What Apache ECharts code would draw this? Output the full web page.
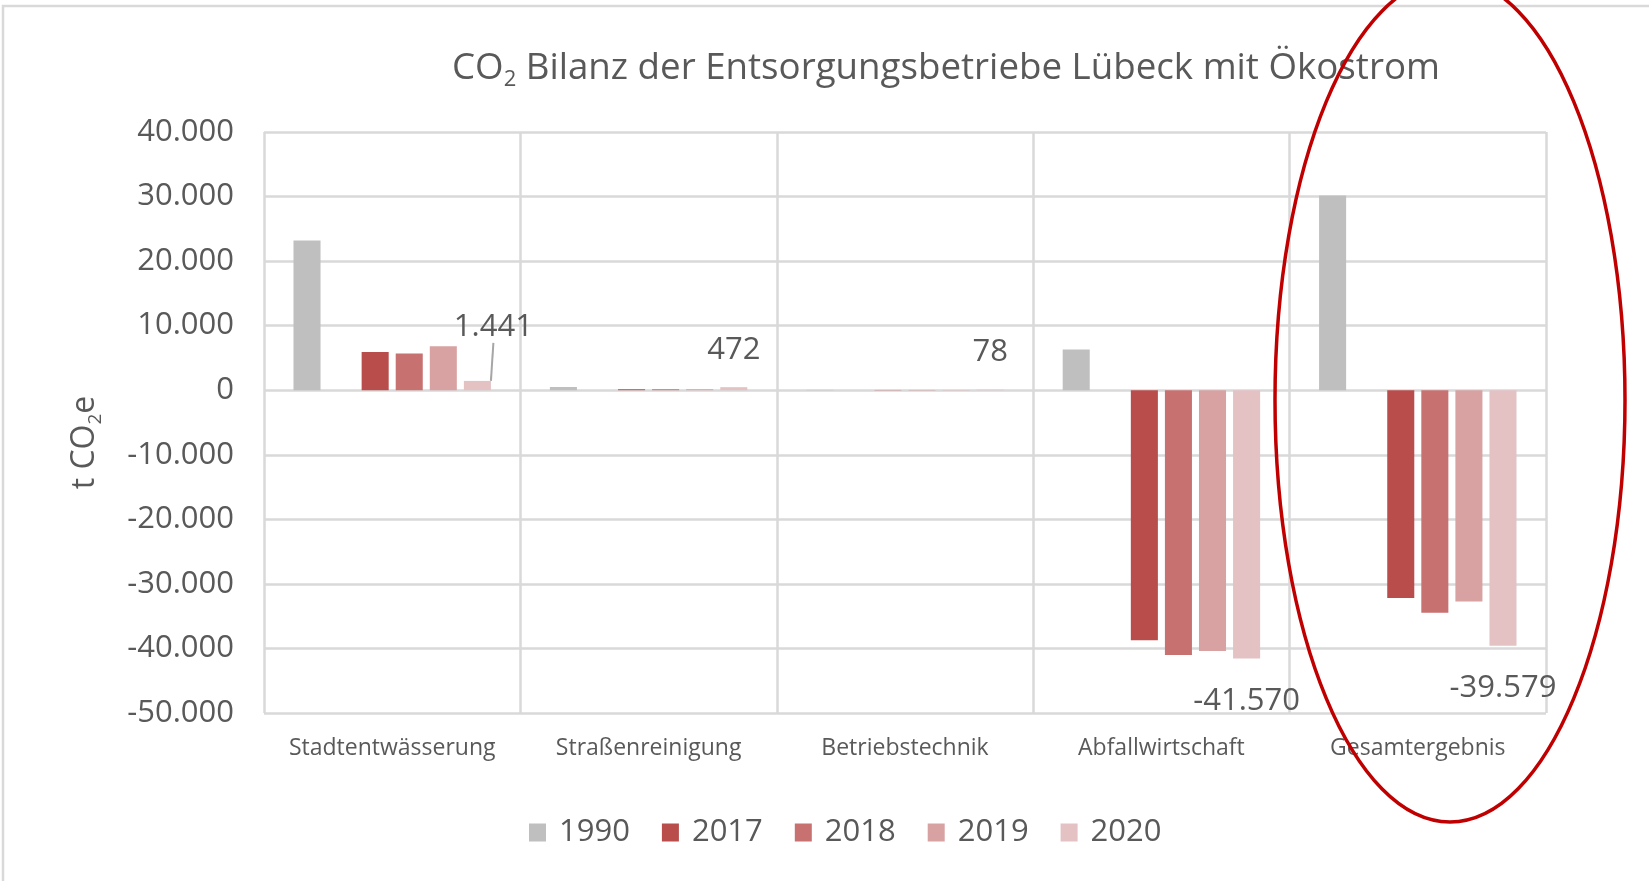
<!DOCTYPE html>
<html>
<head>
<meta charset="utf-8">
<script src="https://cdn.jsdelivr.net/npm/echarts@6/dist/echarts.min.js"></script>
<style>
html,body{margin:0;padding:0;background:#fff;}
#chart{width:1649px;height:881px;}
</style>
</head>
<body>
<div id="chart"></div>
<script>
const categories = ['Stadtentwässerung', 'Straßenreinigung', 'Betriebstechnik', 'Abfallwirtschaft', 'Gesamtergebnis'];
const years = ['1990', '2017', '2018', '2019', '2020'];
const values1990 = [23200, 500, 50, 6300, 30150];
const values2017 = [5930, 150, 40, -38730, -32200];
const values2018 = [5670, 150, 40, -41000, -34470];
const values2019 = [6810, 150, 40, -40390, -32720];
const values2020 = [1441, 472, 78, -41570, -39579];
const yTicks = { min: -50000, max: 40000, interval: 10000 };
const colors = ['#BFBFBF', '#B84D4B', '#C87171', '#D9A2A2', '#E4C2C4'];

const FONT = '"Open Sans", "DejaVu Sans", sans-serif';
const TXT = '#595959';

function fmt(v) {
  const s = String(Math.abs(v)).replace(/\B(?=(\d{3})+(?!\d))/g, '.');
  return (v < 0 ? '-' : '') + s;
}

const seriesValues = [values1990, values2017, values2018, values2019, values2020];

const series = [];
seriesValues.forEach(function (vals, i) {
  const isLast = i === seriesValues.length - 1;
  series.push({
    name: years[i],
    type: 'bar',
    barGap: '26%',
    barCategoryGap: '23%',
    itemStyle: { color: colors[i] },
    data: vals.map(function (v, j) {
      const item = { value: v };
      if (isLast) {
        item.label = { show: true, position: v < 0 ? 'bottom' : 'top', distance: v < 0 ? 27 : 22 };
        if (j === 1) item.label.offset = [-17, 0];
        if (j === 0) item.labelLine = { show: true };
      }
      return item;
    }),
    label: {
      show: false,
      distance: 22,
      fontFamily: FONT,
      fontSize: 31,
      color: TXT,
      formatter: function (p) { return fmt(p.value); }
    },
    labelLine: { show: false, length2: 0, lineStyle: { color: '#A6A6A6', width: 2 } },
    labelLayout: isLast ? function (p) {
      if (p.dataIndex === 0) return { dx: 16, dy: -16 };
      return {};
    } : undefined
  });
  if (i === 0) {
    // empty slot between 1990 and 2017 as in the original chart
    series.push({
      name: '',
      type: 'bar',
      barGap: '26%',
      barCategoryGap: '23%',
      data: categories.map(function () { return null; })
    });
  }
});

const chart = echarts.init(document.getElementById('chart'), null, { renderer: 'canvas' });
chart.setOption({
  animation: false,
  backgroundColor: '#fff',
  title: {
    text: '{a|CO}{s|2}{a| Bilanz der Entsorgungsbetriebe Lübeck mit Ökostrom}',
    left: 447,
    top: 42,
    textStyle: {
      fontWeight: 'normal',
      rich: {
        a: { fontFamily: FONT, fontSize: 36.7, fontWeight: 'normal', color: TXT, lineHeight: 44 },
        s: { fontFamily: FONT, fontSize: 22, fontWeight: 'normal', color: TXT, lineHeight: 20, verticalAlign: 'bottom' }
      }
    }
  },
  legend: {
    data: years,
    left: 524,
    top: 812,
    icon: 'rect',
    itemWidth: 17,
    itemHeight: 18,
    itemGap: 32,
    textStyle: { fontFamily: FONT, fontSize: 31, color: TXT, padding: [0, 0, 0, 8] }
  },
  grid: { left: 264, right: 103, top: 132, bottom: 168, containLabel: false },
  xAxis: {
    type: 'category',
    data: categories,
    axisLine: { show: false, onZero: false },
    axisTick: { show: false, interval: 0 },
    splitLine: { show: true, interval: 0, lineStyle: { color: '#D9D9D9', width: 2.5 } },
    axisLabel: { interval: 0, fontFamily: FONT, fontSize: 23, color: TXT, margin: 24 }
  },
  yAxis: {
    type: 'value',
    min: yTicks.min,
    max: yTicks.max,
    interval: yTicks.interval,
    axisLine: { show: false },
    axisTick: { show: false },
    splitLine: { lineStyle: { color: '#D9D9D9', width: 2.5 } },
    axisLabel: { fontFamily: FONT, fontSize: 31, color: TXT, margin: 30, formatter: fmt },
    name: '{a|t CO}{s|2}{a|e}',
    nameLocation: 'middle',
    nameGap: 159,
    nameTextStyle: {
      padding: [0, 40, 0, 0],
      rich: {
        a: { fontFamily: FONT, fontSize: 32, color: TXT, lineHeight: 40 },
        s: { fontFamily: FONT, fontSize: 19, color: TXT, lineHeight: 18, verticalAlign: 'bottom' }
      }
    }
  },
  graphic: [
    {
      type: 'rect',
      silent: true,
      z: 0,
      shape: { x: 3, y: 6, width: 1700, height: 1000 },
      style: { fill: null, stroke: '#D9D9D9', lineWidth: 2.5 }
    },
    {
      type: 'ellipse',
      silent: true,
      z: 100,
      shape: { cx: 1450, cy: 400, rx: 175, ry: 422 },
      style: { fill: null, stroke: '#C00000', lineWidth: 3.5 }
    }
  ],
  series: series
});
</script>
</body>
</html>
